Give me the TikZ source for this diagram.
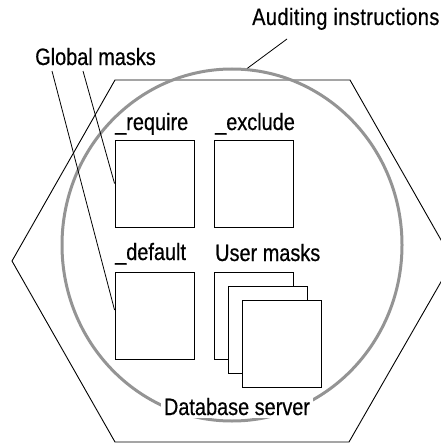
\documentclass[tikz,border=0pt]{standalone}
\usepackage{fontspec}
\setmainfont{Liberation Sans}[FakeStretch=0.84, FakeBold=0.5]
\usetikzlibrary{shapes.geometric}

\begin{document}
\begin{tikzpicture}[x=1pt, y=-1pt,
    lbl/.style={anchor=base west, inner sep=0pt, font=\fontsize{23.7}{28}\selectfont},
    maskbox/.style={draw, fill=white, line width=0.9pt, minimum width=79pt, minimum height=87pt, inner sep=0pt},
    lead/.style={line width=0.8pt}]
  % database server with its auditing instructions and masks
    \clip (0,0) rectangle (441,444);
    \def\dd{14}
    \coordinate (H1) at (115,80);
    \coordinate (H2) at (350,80);
    \coordinate (H3) at (453,261);
    \coordinate (H4) at (349,442);
    \coordinate (H5) at (115,442);
    \coordinate (H6) at (12,261);
    \coordinate (g1) at (52,71);
    \coordinate (g2) at (83,71);
    \coordinate (a1) at (287,39);

    \draw[line width=0.9pt] (H1) -- (H2) -- (H3) -- (H4) -- (H5) -- (H6) -- cycle;

    \node[ellipse, draw=black!42, line width=3pt, minimum width=340pt, minimum height=352pt, inner sep=0pt] (audit) at (232,245) {};

    \node[lbl] (glob) at (35,65) {Global masks};
    \node[lbl] (audtxt) at (252,25) {\addfontfeature{LetterSpace=2}Auditing instructions};
    \node[lbl] (reqlbl) at (115,130) {\_require};
    \node[lbl] (exclbl) at (215,130) {\_exclude};
    \node[lbl] (deflbl) at (115,260) {\_default};
    \node[lbl] (usrlbl) at (215,261) {User masks};
    \node[lbl, anchor=base, fill=white, inner sep=3pt] (db) at (237,415) {Database server};

    \node[maskbox] (req) at (154.5,183.5) {};
    \node[maskbox] (exc) at (254,183.5) {};
    \node[maskbox] (def) at (154.5,316) {};
    \node[maskbox] (usr1) at (254,315.5) {};
    \node[maskbox] (usr2) at (254+\dd,315.5+\dd) {};
    \node[maskbox] (usr3) at (254+2*\dd,315.5+2*\dd) {};

    \draw[lead] (g1) -- ([yshift=6pt]def.west);
    \draw[lead] (g2) -- (req.west);
    \draw[lead] (a1) -- (audit.85);
  \end{tikzpicture}
\end{document}
